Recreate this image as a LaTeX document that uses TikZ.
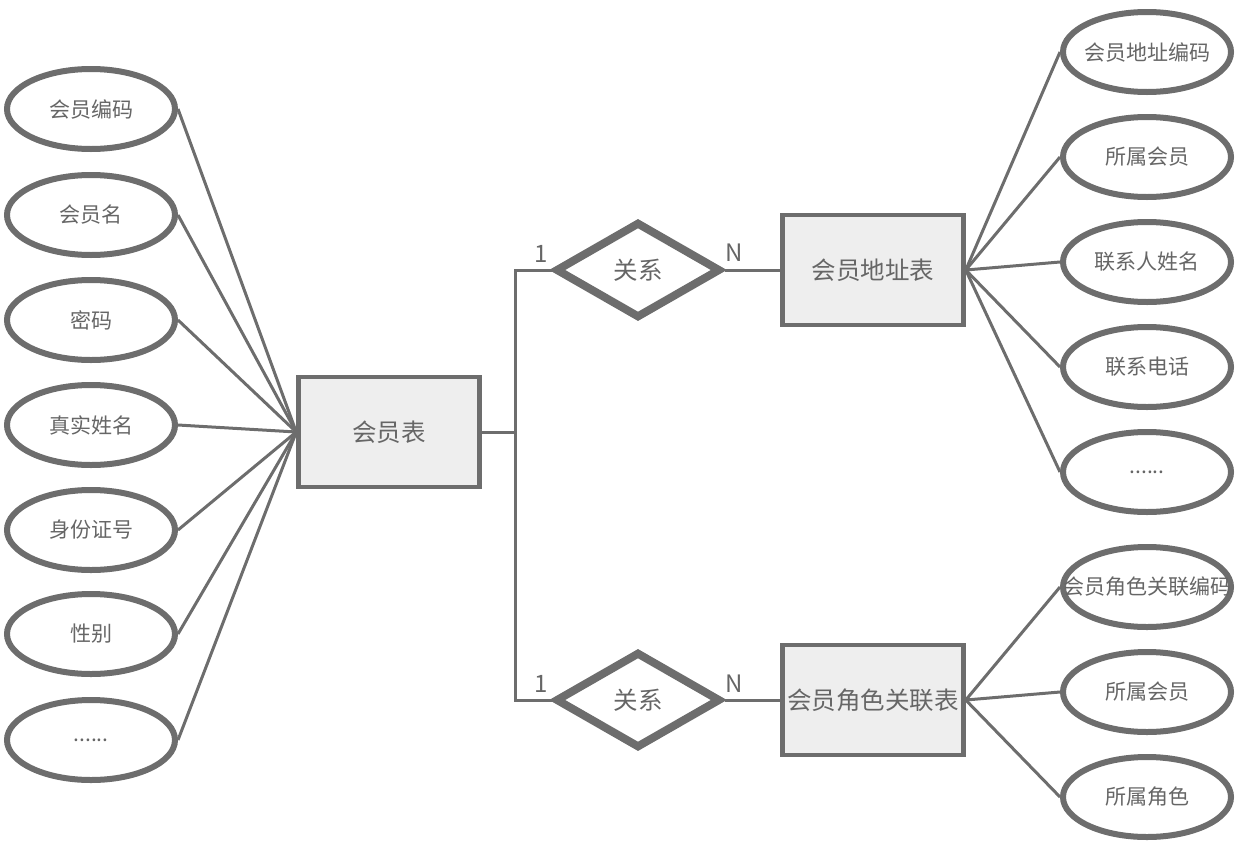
\documentclass[tikz,border=0pt]{standalone}
\usepackage{fontspec}
\setmainfont{Noto Sans CJK SC}
\usetikzlibrary{shapes.geometric}
\definecolor{ln}{HTML}{6D6D6D}
\definecolor{tx}{HTML}{666666}
\definecolor{bx}{HTML}{EEEEEE}
\begin{document}
\begin{tikzpicture}[x=1pt,y=-1pt,
  attr/.style={ellipse,draw=ln,line width=6pt,fill=white,minimum width=168pt,minimum height=80pt,inner sep=0pt,text=tx,font=\fontsize{21}{21}\selectfont},
  lbl/.style={inner sep=0pt,text=tx,font=\fontsize{21}{21}\selectfont},
  ent/.style={rectangle,draw=ln,line width=4.5pt,fill=bx,minimum width=181pt,minimum height=110pt,inner sep=0pt,text=tx,font=\fontsize{24.5}{24.5}\selectfont},
  rel/.style={diamond,draw=ln,line width=8pt,fill=white,minimum width=165pt,minimum height=96pt,inner sep=0pt,text=tx,font=\fontsize{24.5}{24.5}\selectfont},
  conn/.style={draw=ln,line width=3pt},
  card/.style={text=tx,font=\fontsize{24}{24}\selectfont,inner sep=0pt}]
\useasboundingbox (0,0) rectangle (1242,865);
% entities
\node[ent] (mem) at (389,432) {会员表};
\node[ent] (addr) at (873,270) {会员地址表};
\node[ent] (role) at (873,700) {会员角色关联表};
% relations
\node[rel] (r1) at (638,270) {关系};
\node[rel] (r2) at (638,700) {关系};
% left attributes
\node[attr] (a1) at (91,109) {会员编码};
\node[attr] (a2) at (91,215) {会员名};
\node[attr] (a3) at (91,320) {密码};
\node[attr] (a4) at (91,425) {真实姓名};
\node[attr] (a5) at (91,530) {身份证号};
\node[attr] (a6) at (91,634) {性别};
\node[attr] (a7) at (91,740) {......};
% right top attributes
\node[attr] (b1) at (1147,52) {};
\node[lbl] (b1t) at (1147,52) {会员地址编码};
\node[attr] (b2) at (1147,157) {所属会员};
\node[attr] (b3) at (1147,262) {联系人姓名};
\node[attr] (b4) at (1147,367) {联系电话};
\node[attr] (b5) at (1147,472) {......};
% right bottom attributes
\node[attr] (c1) at (1147,587) {};
\node[lbl] (c1t) at (1147,587) {会员角色关联编码};
\node[attr] (c2) at (1147,692) {所属会员};
\node[attr] (c3) at (1147,797) {所属角色};
% connectors
\foreach \n in {a1,a2,a3,a4,a5,a6,a7} \draw[conn] (\n.east) -- (mem.west);
\foreach \n in {b1,b2,b3,b4,b5} \draw[conn] (addr.east) -- (\n.west);
\foreach \n in {c1,c2,c3} \draw[conn] (role.east) -- (\n.west);
\coordinate (j) at (515,432);
\draw[conn] (mem.east) -- (j) |- (r1.west);
\draw[conn] (j) |- (r2.west);
\draw[conn] (r1.east) -- (addr.west);
\draw[conn] (r2.east) -- (role.west);
% cardinalities
\node[card] (k1) at (541,254) {1};
\node[card] (k2) at (734,253) {N};
\node[card] (k3) at (541,684) {1};
\node[card] (k4) at (734,684) {N};
\end{tikzpicture}
\end{document}
